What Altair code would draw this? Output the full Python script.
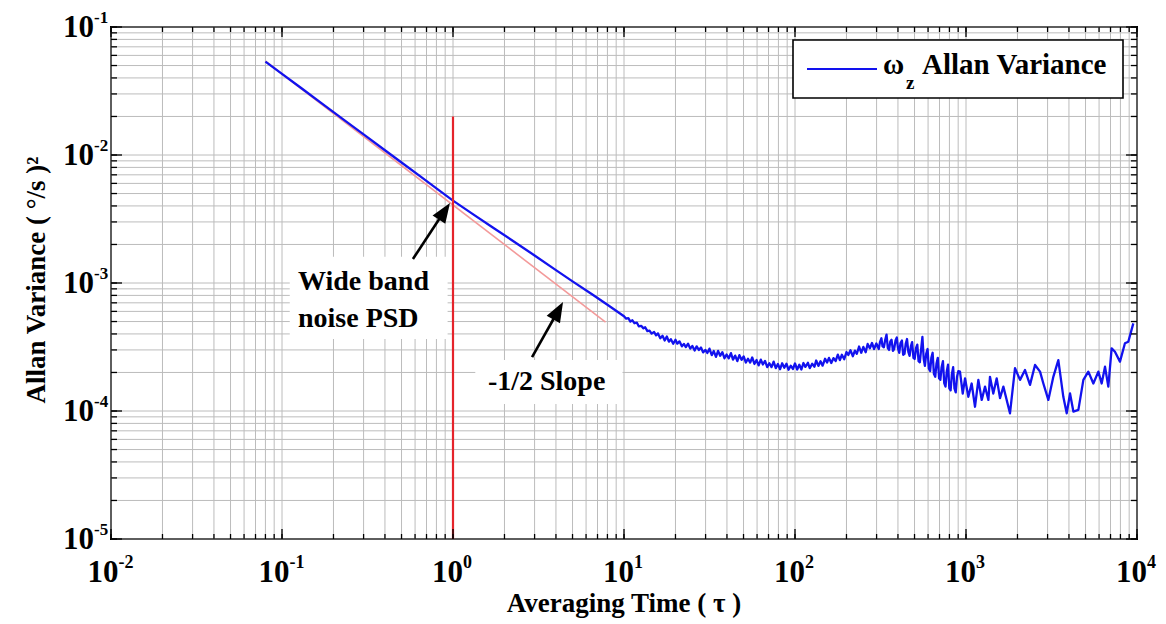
import altair as alt
import pandas as pd

# ---------------- data ----------------
tau = [
    # smooth -1 slope part
    0.08, 0.1, 0.13, 0.17, 0.22, 0.3, 0.4, 0.5, 0.65, 0.8, 1.0, 1.3, 1.7, 2.2, 3.0, 4.0, 5.0, 6.5, 8.0,
    # slightly noisy bottom of the bucket
    10, 10.3, 10.6, 10.9, 11.2, 11.5, 11.9, 12.2, 12.6, 13.0, 13.3, 13.7, 14.1, 14.5, 15.0, 15.4, 15.8,
    16.3, 16.8, 17.3, 17.8, 18.3, 18.8, 19.4, 20.0, 20.5, 21.1, 21.8, 22.4, 23.0, 23.7, 24.4, 25.1, 25.9,
    26.6, 27.4, 28.2, 29.0, 29.9, 30.7, 31.6, 32.6, 33.5, 34.5, 35.5, 36.5, 37.6, 38.7, 39.8, 41.0, 42.2,
    43.4, 44.7, 46.0, 47.3, 48.7, 50.1, 51.6, 53.1, 54.7, 56.2, 57.9, 59.6, 61.3, 63.1, 64.9, 66.8, 68.8,
    70.8, 72.9, 75.0, 77.2, 79.4, 81.8, 84.1, 86.6, 89.1, 91.7, 94.4, 97.2, 100, 103, 106, 109, 112, 115,
    119, 122, 126, 130, 133, 137, 141, 145, 150, 154, 158, 163, 168, 173, 178, 183, 188, 194, 200, 205,
    211, 218, 224, 230, 237, 244, 251, 259, 266, 274, 282, 290, 299,
    # noisy hump
    309, 314, 320, 325, 331, 337, 343, 349, 355, 361, 367, 374, 380, 387, 394, 400, 407, 414, 422, 429,
    437, 444, 452, 460, 468, 476, 484, 493, 501, 510, 519, 528, 537, 546, 556, 566, 575, 585, 596, 606,
    617, 627, 638, 649, 661, 672, 684, 696, 708, 720, 733, 746, 759, 772, 785, 799, 813, 827, 841, 856,
    871, 886, 902,
    # sparse long-tau tail
    922, 957, 987, 1032, 1079, 1129, 1181, 1236, 1292, 1352, 1381, 1444, 1512, 1581, 1654, 1808, 1935,
    2070, 2214, 2368, 2533, 2710, 2834, 3030, 3241, 3467, 3708, 3881, 4059, 4245, 4541, 4857, 5194, 5556,
    5943, 6213, 6500, 6795, 7108, 7431, 7950, 8502, 8896, 9516,
]
allan = [
    0.0536, 0.0430, 0.0332, 0.0254, 0.0197, 0.0145, 0.0109, 0.00874, 0.00674, 0.00549, 0.00440, 0.00347,
    0.00273, 0.00217, 0.00164, 0.00126, 0.00103, 0.000816, 0.000677,
    5.50e-4, 5.26e-4, 5.32e-4, 4.99e-4, 5.11e-4, 4.85e-4, 4.90e-4, 4.59e-4, 4.63e-4, 4.42e-4, 4.51e-4,
    4.21e-4, 4.25e-4, 4.02e-4, 4.14e-4, 3.90e-4, 4.04e-4, 3.70e-4, 3.87e-4, 3.55e-4, 3.82e-4, 3.48e-4,
    3.64e-4, 3.35e-4, 3.60e-4, 3.36e-4, 3.50e-4, 3.20e-4, 3.34e-4, 3.16e-4, 3.36e-4, 3.07e-4, 3.22e-4,
    2.97e-4, 3.20e-4, 3.00e-4, 3.13e-4, 2.87e-4, 3.00e-4, 2.84e-4, 3.07e-4, 2.73e-4, 2.94e-4, 2.65e-4,
    2.95e-4, 2.70e-4, 2.88e-4, 2.58e-4, 2.76e-4, 2.58e-4, 2.83e-4, 2.52e-4, 2.71e-4, 2.45e-4, 2.73e-4,
    2.51e-4, 2.67e-4, 2.39e-4, 2.56e-4, 2.39e-4, 2.62e-4, 2.33e-4, 2.50e-4, 2.27e-4, 2.52e-4, 2.31e-4,
    2.46e-4, 2.20e-4, 2.36e-4, 2.20e-4, 2.43e-4, 2.16e-4, 2.33e-4, 2.12e-4, 2.36e-4, 2.18e-4, 2.34e-4,
    2.10e-4, 2.26e-4, 2.13e-4, 2.35e-4, 2.11e-4, 2.30e-4, 2.11e-4, 2.37e-4, 2.21e-4, 2.38e-4, 2.16e-4,
    2.34e-4, 2.22e-4, 2.48e-4, 2.25e-4, 2.45e-4, 2.26e-4, 2.56e-4, 2.39e-4, 2.60e-4, 2.37e-4, 2.59e-4,
    2.46e-4, 2.76e-4, 2.50e-4, 2.75e-4, 2.54e-4, 2.89e-4, 2.74e-4, 2.98e-4, 2.68e-4, 2.96e-4, 2.80e-4,
    3.19e-4, 2.85e-4, 3.17e-4, 2.88e-4, 3.34e-4, 3.09e-4, 3.40e-4, 3.05e-4, 3.37e-4,
    3.05e-4, 3.45e-4, 3.70e-4, 3.20e-4, 3.15e-4, 3.60e-4, 3.95e-4, 3.10e-4, 3.00e-4, 3.50e-4, 3.60e-4,
    2.95e-4, 3.05e-4, 3.55e-4, 3.75e-4, 3.10e-4, 2.85e-4, 3.40e-4, 3.55e-4, 2.75e-4, 2.80e-4, 3.35e-4,
    3.65e-4, 2.90e-4, 2.70e-4, 3.20e-4, 3.45e-4, 2.60e-4, 2.55e-4, 3.10e-4, 3.30e-4, 2.45e-4, 2.40e-4,
    3.00e-4, 3.80e-4, 2.55e-4, 2.25e-4, 2.80e-4, 3.05e-4, 2.15e-4, 2.05e-4, 2.60e-4, 2.85e-4, 1.95e-4,
    1.85e-4, 2.35e-4, 2.60e-4, 1.80e-4, 1.75e-4, 2.20e-4, 2.45e-4, 1.65e-4, 1.55e-4, 2.05e-4, 2.30e-4,
    1.50e-4, 1.45e-4, 1.95e-4, 2.20e-4, 1.50e-4, 1.40e-4, 1.85e-4, 2.05e-4,
    2.03e-4, 1.37e-4, 1.80e-4, 1.29e-4, 1.64e-4, 1.08e-4, 1.75e-4, 1.22e-4, 1.55e-4, 1.22e-4, 1.85e-4,
    1.37e-4, 1.80e-4, 1.26e-4, 1.55e-4, 0.96e-4, 2.16e-4, 1.75e-4, 2.09e-4, 1.60e-4, 2.29e-4, 2.03e-4,
    1.64e-4, 1.22e-4, 1.85e-4, 2.50e-4, 1.29e-4, 0.96e-4, 1.37e-4, 0.99e-4, 1.02e-4, 1.75e-4, 2.03e-4,
    1.64e-4, 2.03e-4, 1.64e-4, 2.22e-4, 1.55e-4, 3.09e-4, 2.90e-4, 2.43e-4, 3.38e-4, 3.48e-4, 4.84e-4,
]
assert len(tau) == len(allan), (len(tau), len(allan))

slope_tau = [0.08, 7.8]
slope_val = [0.054, 4.95e-4]

marker_tau = [1.0]
marker_lo = [1e-5]
marker_hi = [0.02]

x_decades = [0.01, 0.1, 1, 10, 100, 1000, 10000]
x_exps = ["-2", "-1", "0", "1", "2", "3", "4"]
y_decades = [1e-5, 1e-4, 1e-3, 1e-2, 1e-1]
y_exps = ["-5", "-4", "-3", "-2", "-1"]
minor_mult = [2, 3, 4, 5, 6, 7, 8, 9]

note_tau = [0.124, 0.124, 1.6]
note_val = [8.8e-4, 4.53e-4, 1.46e-4]
note_text = ["Wide band", "noise PSD", "-1/2 Slope"]

box_x1 = [0.111, 1.35]
box_x2 = [0.93, 9.8]
box_y1 = [1.6e-3, 2.5e-4]
box_y2 = [3.65e-4, 1.135e-4]

arrow_tail_tau = [0.583, 2.9]
arrow_tail_val = [1.54e-3, 2.64e-4]
arrow_end_tau = [0.89, 4.12]
arrow_end_val = [3.63e-3, 6.07e-4]
arrow_tip_tau = [0.96, 4.4]
arrow_tip_val = [4.22e-3, 7.1e-4]
arrow_angle = [33.5, 29]

x_title = "Averaging Time ( τ )"
y_title = "Allan Variance ( °/s )²"
legend_label = "Allan Variance"

# ---------------- layout ----------------
W, H = 1026, 512
FONT = "Liberation Serif"
BLUE = "#1212ee"
GRID = "#bcbcbc"

x_grid = [d * m for d in x_decades[:-1] for m in [1] + minor_mult] + [x_decades[-1]]
y_grid = [d * m for d in y_decades[:-1] for m in [1] + minor_mult] + [y_decades[-1]]

xscale = alt.Scale(type="log", domain=[0.01, 10000], nice=False)
yscale = alt.Scale(type="log", domain=[1e-5, 0.1], nice=False)

def X(f):
    return alt.X(f, scale=xscale, axis=None)

def Y(f):
    return alt.Y(f, scale=yscale, axis=None)

one = pd.DataFrame({"k": [0]})

# grid
xgrid = alt.Chart(pd.DataFrame({"t": x_grid})).mark_rule(color=GRID, strokeWidth=1).encode(
    x=X("t:Q"), y=alt.value(0), y2=alt.value(H))
ygrid = alt.Chart(pd.DataFrame({"t": y_grid})).mark_rule(color=GRID, strokeWidth=1).encode(
    y=Y("t:Q"), x=alt.value(0), x2=alt.value(W))

df = pd.DataFrame({"tau": tau, "allan": allan})

main = alt.Chart(df).mark_line(color=BLUE, strokeWidth=2.3, strokeJoin="round").encode(
    x=X("tau:Q"), y=Y("allan:Q"))

boxes = alt.Chart(pd.DataFrame({"x1": box_x1, "x2": box_x2, "y1": box_y1, "y2": box_y2})).mark_rect(
    fill="white").encode(x=X("x1:Q"), x2="x2:Q", y=Y("y1:Q"), y2="y2:Q")

slope = alt.Chart(pd.DataFrame({"tau": slope_tau, "v": slope_val})).mark_line(
    color="#f39a9a", strokeWidth=1.6).encode(x=X("tau:Q"), y=Y("v:Q"))

marker = alt.Chart(pd.DataFrame({"tau": marker_tau, "lo": marker_lo, "hi": marker_hi})).mark_rule(
    color="#e5242b", strokeWidth=2.2).encode(x=X("tau:Q"), y=Y("lo:Q"), y2="hi:Q")

shafts = alt.Chart(pd.DataFrame({"x1": arrow_tail_tau, "y1": arrow_tail_val,
                                 "x2": arrow_end_tau, "y2": arrow_end_val})).mark_rule(
    color="black", strokeWidth=2.6).encode(x=X("x1:Q"), x2="x2:Q", y=Y("y1:Q"), y2="y2:Q")

heads = alt.Chart(pd.DataFrame({"tau": arrow_tip_tau, "v": arrow_tip_val, "ang": arrow_angle})).mark_point(
    shape="M0,0L-0.38,1L0.38,1Z", filled=True, size=1600, color="black", opacity=1,
    strokeWidth=0).encode(x=X("tau:Q"), y=Y("v:Q"), angle=alt.Angle("ang:Q", scale=None))

notes = alt.Chart(pd.DataFrame({"tau": note_tau, "v": note_val, "t": note_text})).mark_text(
    font=FONT, fontSize=28, fontWeight="bold", align="left", baseline="alphabetic",
    color="black").encode(x=X("tau:Q"), y=Y("v:Q"), text="t:N")

# tick marks (inward, all four sides)
def xticks(vals, L, top):
    c = alt.Chart(pd.DataFrame({"t": vals})).mark_rule(color="black", strokeWidth=1.3)
    if top:
        return c.encode(x=X("t:Q"), y=alt.value(0), y2=alt.value(L))
    return c.encode(x=X("t:Q"), y=alt.value(H), y2=alt.value(H - L))

def yticks(vals, L, right):
    c = alt.Chart(pd.DataFrame({"t": vals})).mark_rule(color="black", strokeWidth=1.3)
    if right:
        return c.encode(y=Y("t:Q"), x=alt.value(W), x2=alt.value(W - L))
    return c.encode(y=Y("t:Q"), x=alt.value(0), x2=alt.value(L))

ticks = [xticks(x_grid, 5, False), xticks(x_grid, 5, True), xticks(x_decades, 10, False),
         xticks(x_decades, 10, True), yticks(y_grid, 6, False), yticks(y_grid, 6, True),
         yticks(y_decades, 11, False), yticks(y_decades, 11, True)]

# tick labels 10^k
def xlabels(vals, exps, shift):
    d = pd.DataFrame({"t": vals, "e": exps})
    base = alt.Chart(d).mark_text(font=FONT, fontSize=31, fontWeight="bold", align="right",
                                  baseline="alphabetic", dx=shift, color="black").encode(
        x=X("t:Q"), y=alt.value(H + 43), text=alt.value("10"))
    sup = alt.Chart(d).mark_text(font=FONT, fontSize=18, fontWeight="bold", align="left",
                                 baseline="alphabetic", dx=shift, color="black").encode(
        x=X("t:Q"), y=alt.value(H + 29), text="e:N")
    return [base, sup]

xl = xlabels(x_decades[:2], x_exps[:2], 7.5) + xlabels(x_decades[2:], x_exps[2:], 10)

yd = pd.DataFrame({"t": y_decades, "e": y_exps})
yl_base = alt.Chart(yd).mark_text(font=FONT, fontSize=31, fontWeight="bold", align="right",
                                  baseline="alphabetic", dy=10, color="black").encode(
    y=Y("t:Q"), x=alt.value(-17), text=alt.value("10"))
yl_sup = alt.Chart(yd).mark_text(font=FONT, fontSize=17, fontWeight="bold", align="left",
                                 baseline="alphabetic", dy=-4, color="black").encode(
    y=Y("t:Q"), x=alt.value(-17), text="e:N")

# axis titles
xt = alt.Chart(one).mark_text(font=FONT, fontSize=27, fontWeight="bold", align="center",
                              baseline="alphabetic", color="black").encode(
    x=alt.value(W / 2), y=alt.value(H + 73), text=alt.value(x_title))
yt = alt.Chart(one).mark_text(font=FONT, fontSize=27, fontWeight="bold", align="center",
                              baseline="alphabetic", angle=270, color="black").encode(
    x=alt.value(-66), y=alt.value(253), text=alt.value(y_title))

# legend
leg_box = alt.Chart(one).mark_rect(fill="white", stroke="black", strokeWidth=1.6).encode(
    x=alt.value(682), x2=alt.value(1012), y=alt.value(13), y2=alt.value(71))
leg_line = alt.Chart(one).mark_rule(color=BLUE, strokeWidth=2.2).encode(
    x=alt.value(696), x2=alt.value(766), y=alt.value(42))
leg_omega = alt.Chart(one).mark_text(font=FONT, fontSize=29, fontWeight="bold", align="left",
                                     baseline="alphabetic", color="black").encode(
    x=alt.value(772), y=alt.value(47), text=alt.value("ω"))
leg_sub = alt.Chart(one).mark_text(font=FONT, fontSize=19, fontWeight="bold", align="left",
                                   baseline="alphabetic", color="black").encode(
    x=alt.value(795), y=alt.value(62), text=alt.value("z"))
leg_text = alt.Chart(one).mark_text(font=FONT, fontSize=29, fontWeight="bold", align="left",
                                    baseline="alphabetic", color="black").encode(
    x=alt.value(811), y=alt.value(47), text=alt.value(legend_label))

chart = alt.layer(
    xgrid, ygrid, boxes, slope, main, marker, shafts, heads, notes, *ticks, *xl, yl_base, yl_sup,
    xt, yt, leg_box, leg_line, leg_omega, leg_sub, leg_text,
).properties(
    width=W, height=H,
    padding={"left": 111, "top": 27, "right": 29, "bottom": 85},
    autosize=alt.AutoSizeParams(type="none"),
    background="white",
).configure_view(stroke="black", strokeWidth=2)

chart.save("out.html", embed_options={"renderer": "svg", "actions": False})
